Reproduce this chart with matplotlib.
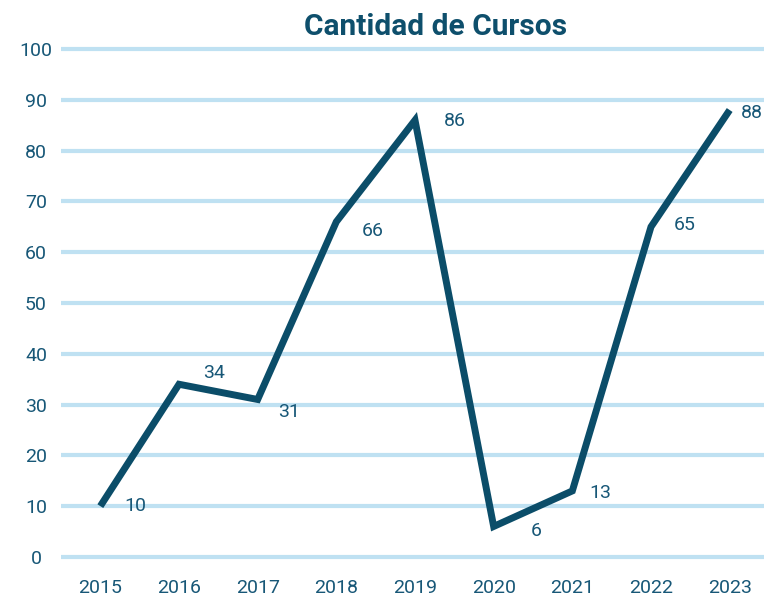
import matplotlib.pyplot as plt

years = ["2015", "2016", "2017", "2018", "2019", "2020", "2021", "2022", "2023"]
cursos = [10, 34, 31, 66, 86, 6, 13, 65, 88]
yticks = [0, 10, 20, 30, 40, 50, 60, 70, 80, 90, 100]

# nudges (pixels) for the value labels, as placed in the original
label_dx = [24, 24, 20, 25, 29, 37, 17, 23, 11]
label_dy = [0, -11, 13, 9, 1, 5, 2, -2, 3]

LINE = "#0b4d69"
TEXT = "#175777"
GRID = "#bfe1f2"

plt.rcParams["font.family"] = ["Roboto", "DejaVu Sans"]

W, H = 764, 598
fig = plt.figure(figsize=(W / 100, H / 100), dpi=100)
# axes box in pixels: x 61..769 (runs a bit past the right edge), y (from top) 44..562
ax = fig.add_axes([61 / W, (H - 562) / H, 708 / W, 518 / H])

x = list(range(len(years)))
ax.plot(x, cursos, color=LINE, lw=5, solid_joinstyle="miter", solid_capstyle="butt", zorder=3)

for xi, v, dx, dy in zip(x, cursos, label_dx, label_dy):
    ax.annotate(str(v), (xi, v), xytext=(dx, -dy), textcoords="offset pixels",
                ha="left", va="center", fontsize=14, color=TEXT, annotation_clip=False)

ax.set_xlim(-0.5, len(years) - 0.5)
ax.set_ylim(-1, 101)
ax.set_xticks(x)
ax.set_xticklabels(years)
ax.set_yticks(yticks)
ax.tick_params(length=0, labelsize=14, colors=TEXT)
ax.tick_params(axis="x", pad=12)
ax.tick_params(axis="y", pad=18)
for lab in ax.get_yticklabels():
    lab.set_horizontalalignment("center")
ax.yaxis.grid(True, color=GRID, lw=3)
ax.set_axisbelow(True)
for s in ax.spines.values():
    s.set_visible(False)

fig.text(436 / W, 1 - 27 / H, "Cantidad de Cursos", ha="center", va="center",
         fontsize=21.5, fontweight="bold", color="#0e4f6c")

fig.savefig("out.png", dpi=100)
